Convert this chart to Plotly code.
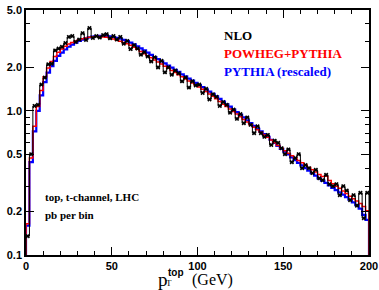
import plotly.graph_objects as go
import numpy as np

# bin edges (GeV), 2 GeV bins from 0 to 200
bin_edges = list(range(0, 202, 2))

powheg = [0.165, 0.47, 0.78, 1.07, 1.38, 1.72, 1.98, 2.2, 2.38, 2.55,
          2.68, 2.8, 2.9, 2.98, 3.05, 3.11, 3.16, 3.2, 3.24, 3.26,
          3.27, 3.27, 3.25, 3.23, 3.2, 3.15, 3.1, 3.04, 2.98, 2.92,
          2.85, 2.76, 2.67, 2.58, 2.49, 2.41, 2.33, 2.25, 2.18, 2.11,
          2.04, 1.97, 1.9, 1.84, 1.78, 1.72, 1.66, 1.61, 1.56, 1.51,
          1.46, 1.41, 1.36, 1.31, 1.26, 1.21, 1.16, 1.11, 1.07, 1.03,
          0.99, 0.95, 0.91, 0.87, 0.835, 0.8, 0.77, 0.74, 0.71, 0.68,
          0.655, 0.628, 0.6, 0.575, 0.55, 0.528, 0.508, 0.488, 0.47, 0.452,
          0.436, 0.42, 0.405, 0.39, 0.376, 0.362, 0.35, 0.352, 0.328, 0.312,
          0.3, 0.29, 0.278, 0.267, 0.256, 0.246, 0.237, 0.228, 0.217, 0.203]

pythia = [0.16, 0.44, 0.72, 1.0, 1.28, 1.58, 1.84, 2.04, 2.22, 2.4,
          2.53, 2.66, 2.78, 2.88, 2.97, 3.05, 3.12, 3.18, 3.23, 3.27,
          3.3, 3.31, 3.31, 3.3, 3.28, 3.25, 3.21, 3.16, 3.1, 3.04,
          2.97, 2.89, 2.8, 2.71, 2.62, 2.53, 2.44, 2.36, 2.28, 2.2,
          2.13, 2.06, 1.99, 1.92, 1.86, 1.79, 1.73, 1.67, 1.62, 1.56,
          1.51, 1.46, 1.41, 1.36, 1.31, 1.26, 1.21, 1.16, 1.11, 1.07,
          1.02, 0.98, 0.94, 0.9, 0.86, 0.82, 0.785, 0.75, 0.72, 0.69,
          0.66, 0.63, 0.6, 0.572, 0.545, 0.52, 0.498, 0.476, 0.455, 0.435,
          0.418, 0.4, 0.385, 0.37, 0.355, 0.34, 0.328, 0.316, 0.304, 0.292,
          0.282, 0.272, 0.262, 0.252, 0.242, 0.232, 0.222, 0.21, 0.19, 0.175]

nlo = [0.135, 0.5, 1.08, 1.1, 1.52, 1.7, 2.1, 2.12, 2.62, 2.7,
       2.78, 2.95, 3.25, 3.3, 3.0, 3.12, 3.45, 3.1, 3.75, 3.2,
       3.3, 3.22, 3.35, 3.4, 3.18, 3.3, 3.12, 3.25, 2.92, 3.05,
       2.68, 2.85, 2.7, 2.45, 2.55, 2.38, 2.2, 2.35, 2.0, 2.22,
       1.85, 2.0, 1.78, 1.9, 1.82, 1.6, 1.7, 1.45, 1.6, 1.5,
       1.52, 1.33, 1.42, 1.2, 1.3, 1.25, 1.08, 1.15, 1.1, 0.97,
       1.02, 0.88, 0.95, 0.82, 0.9, 0.8, 0.7, 0.78, 0.7, 0.66,
       0.68, 0.58, 0.62, 0.6, 0.55, 0.5, 0.54, 0.44, 0.47, 0.5,
       0.4, 0.42, 0.4, 0.37, 0.39, 0.34, 0.33, 0.36, 0.31, 0.3,
       0.31, 0.26, 0.3, 0.28, 0.24, 0.26, 0.22, 0.27, 0.18, 0.27]

x_ticks = [0, 50, 100, 150, 200]
y_ticks = [0.1, 0.2, 0.5, 1.0, 2.0, 5.0]
y_ticktext = ["0.1", "0.2", "0.5", "1.0", "2.0", "5.0"]
y_minor = [0.3, 0.4, 0.6, 0.7, 0.8, 0.9, 3.0, 4.0]

FLOOR = 1e-3


def step_xy(vals):
    xs = [bin_edges[0]] + bin_edges[:-1] + [bin_edges[-1], bin_edges[-1]]
    ys = [FLOOR] + list(vals) + [vals[-1], FLOOR]
    return xs, ys


centers = [(a + b) / 2 for a, b in zip(bin_edges[:-1], bin_edges[1:])]

fig = go.Figure()

xb, yb = step_xy(pythia)
fig.add_trace(go.Scatter(x=xb, y=yb, mode="lines", line_shape="hv",
                         line=dict(color="#0000ff", width=2.2), hoverinfo="skip"))
xr, yr = step_xy(powheg)
fig.add_trace(go.Scatter(x=xr, y=yr, mode="lines", line_shape="hv",
                         line=dict(color="#ff0000", width=1.5), hoverinfo="skip"))
xk, yk = step_xy(nlo)
fig.add_trace(go.Scatter(x=xk, y=yk, mode="lines", line_shape="hv",
                         line=dict(color="black", width=1.0), hoverinfo="skip"))
fig.add_trace(go.Scatter(x=centers, y=nlo, mode="markers",
                         marker=dict(symbol="x", size=4, color="black"),
                         hoverinfo="skip"))

tickfont = dict(family="Liberation Sans", size=11, color="black")

fig.update_xaxes(range=[0, 200], tickvals=x_ticks,
                 ticktext=["<b>%d</b>" % v for v in x_ticks],
                 ticks="inside", ticklen=8, tickwidth=1, tickcolor="black",
                 showline=True, linecolor="black", linewidth=1.5, mirror="allticks",
                 showgrid=False, zeroline=False, tickfont=tickfont, automargin=False,
                 minor=dict(ticks="inside", ticklen=4, dtick=10, tickcolor="black",
                            showgrid=False))
fig.update_yaxes(type="log", range=[-1, np.log10(5)], tickvals=y_ticks,
                 ticktext=["<b>%s</b>" % t for t in y_ticktext],
                 ticks="inside", ticklen=8, tickwidth=1, tickcolor="black",
                 showline=True, linecolor="black", linewidth=1.5, mirror="allticks",
                 showgrid=False, zeroline=False, tickfont=tickfont, automargin=False,
                 minor=dict(ticks="inside", ticklen=4, tickmode="array",
                            tickvals=y_minor, tickcolor="black", showgrid=False))

serif = "Liberation Serif"
ann = []
ann.append(dict(text="<b>NLO</b>", x=0.571, y=0.894, xanchor="left", yanchor="middle",
                font=dict(family=serif, size=13, color="black")))
ann.append(dict(text="<b>POWHEG+PYTHIA</b>", x=0.571, y=0.824, xanchor="left",
                yanchor="middle", font=dict(family=serif, size=13, color="#ff0000")))
ann.append(dict(text="<b>PYTHIA (rescaled)</b>", x=0.571, y=0.751, xanchor="left",
                yanchor="middle", font=dict(family=serif, size=13, color="#0000ff")))
ann.append(dict(text="<b>top, t-channel, LHC</b>", x=0.05, y=0.237, xanchor="left",
                yanchor="middle", font=dict(family=serif, size=11, color="black")))
ann.append(dict(text="<b>pb per bin</b>", x=0.05, y=0.163, xanchor="left",
                yanchor="middle", font=dict(family=serif, size=11, color="black")))
# x-axis title pieces
ann.append(dict(text="p", x=0.398, y=-0.1, xanchor="center", yanchor="middle",
                font=dict(family=serif, size=19, color="black")))
ann.append(dict(text="<b>top</b>", x=0.437, y=-0.071, xanchor="center", yanchor="middle",
                font=dict(family="Liberation Sans", size=10, color="black")))
ann.append(dict(text="T", x=0.418, y=-0.116, xanchor="center", yanchor="middle",
                font=dict(family=serif, size=9, color="black")))
ann.append(dict(text="(GeV)", x=0.545, y=-0.104, xanchor="center", yanchor="middle",
                font=dict(family=serif, size=16, color="black")))
for a in ann:
    a.update(xref="paper", yref="paper", showarrow=False)

fig.update_layout(width=379, height=290, margin=dict(l=26, r=10, t=10, b=35),
                  paper_bgcolor="white", plot_bgcolor="white", showlegend=False,
                  annotations=ann)

fig.write_html("out.html", config={"displayModeBar": False},
               post_script="document.body.style.margin='0';document.body.style.overflow='hidden';")
